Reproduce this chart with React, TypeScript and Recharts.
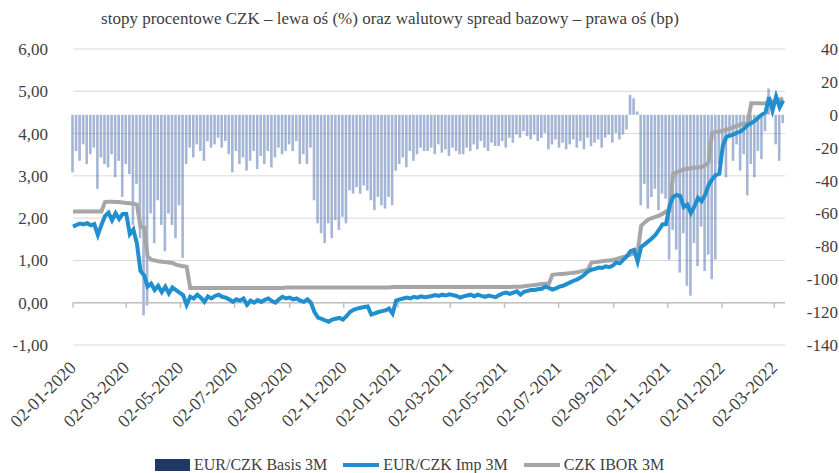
import {
  Bar,
  CartesianGrid,
  ComposedChart,
  Line,
  ReferenceLine,
  XAxis,
  YAxis,
} from "recharts";

const FONT = '"Liberation Serif", "DejaVu Serif", serif';
const TEXT = "#404040";

// first observation and spacing of the sampled series (days)
const START = Date.UTC(2020, 0, 2);
const DAY = 86400000;
const STEP_DAYS = 4;
const LAST_DAY = 802;

// EUR/CZK implied 3M (%), sampled every 4 days
const implied3m = [
  1.8, 1.84, 1.87, 1.85, 1.88, 1.83, 1.86, 1.6, 1.84, 2.05,
  2.13, 1.95, 2.12, 1.98, 2.1, 2.1, 1.62, 1.73, 1.4, 0.75,
  0.65, 0.38, 0.45, 0.3, 0.4, 0.25, 0.38, 0.22, 0.36, 0.3,
  0.24, 0.18, -0.05, 0.14, 0.1, 0.19, 0.12, 0.02, 0.15, 0.1,
  0.16, 0.19, 0.14, 0.12, 0.08, 0.02, 0.08, 0.05, 0.1, -0.05,
  0.05, 0.0, 0.06, 0.02, 0.07, 0.1, 0.04, 0.0, 0.08, 0.14,
  0.1, 0.12, 0.08, 0.1, 0.05, 0.02, 0.08, 0.0, -0.22, -0.35,
  -0.38, -0.42, -0.45, -0.4, -0.38, -0.36, -0.4, -0.32, -0.22, -0.17,
  -0.14, -0.12, -0.1, -0.09, -0.28, -0.25, -0.22, -0.2, -0.18, -0.14,
  -0.26, 0.05, 0.08, 0.1, 0.12, 0.1, 0.14, 0.12, 0.15, 0.13,
  0.14, 0.16, 0.18, 0.16, 0.19, 0.17, 0.2, 0.18, 0.16, 0.12,
  0.15, 0.17, 0.19, 0.15, 0.19, 0.16, 0.14, 0.17, 0.15, 0.13,
  0.18, 0.22, 0.24, 0.21, 0.24, 0.27, 0.19, 0.26, 0.28, 0.3,
  0.3, 0.32, 0.33, 0.38, 0.35, 0.31, 0.34, 0.38, 0.4, 0.44,
  0.48, 0.52, 0.55, 0.6, 0.66, 0.74, 0.78, 0.8, 0.83, 0.82,
  0.86, 0.84, 0.88, 0.95, 0.93, 1.02, 1.1, 1.22, 1.25, 0.97,
  1.32, 1.38, 1.45, 1.52, 1.6, 1.72, 1.85, 1.86, 2.3, 2.5,
  2.55, 2.52, 2.26, 2.32, 2.12, 2.28, 2.48, 2.4, 2.55, 2.78,
  2.92, 3.02, 3.05, 3.72, 3.92, 3.95, 3.98, 4.02, 4.05, 4.12,
  4.2, 4.25, 4.3, 4.38, 4.45, 4.5, 4.86, 4.55, 4.88, 4.62,
  4.78,
];

// CZK IBOR 3M (%)
const ibor3m = [
  2.16, 2.16, 2.16, 2.16, 2.16, 2.16, 2.16, 2.16, 2.16, 2.38,
  2.39, 2.39, 2.38, 2.38, 2.37, 2.36, 2.35, 2.34, 2.32, 1.8,
  1.78, 1.1, 1.02, 1.0, 0.98, 0.97, 0.96, 0.95, 0.94, 0.9,
  0.88, 0.86, 0.85, 0.35, 0.35, 0.35, 0.35, 0.35, 0.35, 0.35,
  0.35, 0.35, 0.35, 0.35, 0.35, 0.35, 0.35, 0.35, 0.35, 0.35,
  0.35, 0.35, 0.35, 0.35, 0.35, 0.35, 0.35, 0.35, 0.35, 0.35,
  0.36, 0.36, 0.36, 0.36, 0.36, 0.36, 0.36, 0.36, 0.36, 0.36,
  0.36, 0.36, 0.36, 0.36, 0.36, 0.36, 0.36, 0.36, 0.36, 0.36,
  0.36, 0.36, 0.36, 0.36, 0.36, 0.36, 0.36, 0.36, 0.36, 0.36,
  0.37, 0.37, 0.37, 0.37, 0.37, 0.37, 0.37, 0.37, 0.37, 0.37,
  0.37, 0.37, 0.37, 0.37, 0.37, 0.37, 0.37, 0.37, 0.37, 0.37,
  0.37, 0.37, 0.37, 0.37, 0.37, 0.37, 0.37, 0.37, 0.37, 0.37,
  0.37, 0.37, 0.37, 0.37, 0.38, 0.38, 0.38, 0.39, 0.4, 0.41,
  0.42, 0.43, 0.44, 0.45, 0.45, 0.66, 0.67, 0.68, 0.68, 0.69,
  0.7, 0.71, 0.72, 0.74, 0.76, 0.78, 0.95, 0.96, 0.97, 0.98,
  0.99, 1.0, 1.01, 1.03, 1.06, 1.08, 1.1, 1.14, 1.17, 1.19,
  1.82, 1.9, 1.97, 2.0, 2.03, 2.06, 2.1, 2.16, 2.18, 3.05,
  3.08, 3.12, 3.15, 3.17, 3.18, 3.19, 3.2, 3.21, 3.25, 3.32,
  4.02, 4.04, 4.05, 4.07, 4.09, 4.12, 4.15, 4.18, 4.21, 4.24,
  4.26, 4.72, 4.72, 4.72, 4.71, 4.72, 4.74, 4.76, 4.78, 4.8,
  4.83,
];

// EUR/CZK basis 3M (bp)
const basis3m = [
  -35, -22, -28, -18, -30, -24, -20, -45, -26, -30,
  -32, -24, -38, -28, -50, -30, -36, -67, -42, -75,
  -122, -116, -60, -78, -52, -67, -83, -60, -67, -75,
  -55, -87, -30, -20, -26, -18, -22, -28, -16, -20,
  -18, -14, -20, -16, -24, -35, -22, -30, -26, -34,
  -28, -22, -33, -25, -30, -22, -32, -26, -20, -24,
  -22, -18, -22, -16, -30, -24, -30, -20, -52, -66,
  -72, -78, -66, -75, -64, -70, -62, -66, -46, -48,
  -44, -48, -43, -46, -52, -58, -50, -55, -57, -50,
  -55, -34, -30, -26, -32, -22, -28, -24, -20, -22,
  -22, -20, -24, -18, -23, -21, -25, -20, -22, -24,
  -24, -20, -22, -18, -21, -16, -20, -22, -17, -19,
  -19, -16, -20, -14, -17, -12, -14, -10, -13, -15,
  -12, -16, -14, -11, -21, -18, -15, -20, -17, -21,
  -18, -15, -20, -16, -21, -14, -19, -17, -15, -20,
  -14, -12, -17, -11, -15, -12, -9, 12, 10, 2,
  -55, -42, -57, -50, -45, -58, -48, -51, -88, -70,
  -82, -96, -72, -104, -110, -78, -92, -68, -95, -85,
  -100, -88, -30, -20, -38, -14, -28, -18, -34, -24,
  -49, -30, -38, -22, -27, -10, 16, 8, -18, -28,
  -5,
];

const tickDates = [
  "2020-01-02", "2020-03-02", "2020-05-02", "2020-07-02", "2020-09-02",
  "2020-11-02", "2021-01-02", "2021-03-02", "2021-05-02", "2021-07-02",
  "2021-09-02", "2021-11-02", "2022-01-02", "2022-03-02",
];
const leftTicks = [-1, 0, 1, 2, 3, 4, 5, 6];
const rightTicks = [-140, -120, -100, -80, -60, -40, -20, 0, 20, 40];

const data = implied3m.map((v, i) => ({
  day: i * STEP_DAYS,
  implied: v,
  ibor: ibor3m[i],
  basis: basis3m[i],
}));

const toDay = (iso: string) => (Date.parse(iso + "T00:00:00Z") - START) / DAY;
const xTicks = tickDates.map(toDay);

const fmtDate = (day: number) => {
  const d = new Date(START + day * DAY);
  const dd = String(d.getUTCDate()).padStart(2, "0");
  const mm = String(d.getUTCMonth() + 1).padStart(2, "0");
  return `${dd}-${mm}-${d.getUTCFullYear()}`;
};

function DateTick({ x, y, payload }: any) {
  const tx = x + 4;
  const ty = y + 22;
  return (
    <text
      x={tx}
      y={ty}
      textAnchor="end"
      transform={`rotate(-45 ${tx} ${ty})`}
      fontFamily={FONT}
      fontSize={18}
      fill={TEXT}
    >
      {fmtDate(payload.value)}
    </text>
  );
}

function RightTick({ x, y, payload }: any) {
  return (
    <text x={x + 51} y={y} dy="0.355em" textAnchor="end" fontFamily={FONT} fontSize={17} fill={TEXT}>
      {payload.value}
    </text>
  );
}

function LegendRow() {
  const item = { display: "flex", alignItems: "center", gap: 4 } as const;
  return (
    <div
      style={{
        position: "absolute",
        top: 456,
        left: 155,
        display: "flex",
        gap: 16,
        fontFamily: FONT,
        fontSize: 16,
        color: TEXT,
        whiteSpace: "nowrap",
      }}
    >
      <div style={item}>
        <span style={{ width: 35, height: 12, background: "#1f3864", display: "inline-block" }} />
        EUR/CZK Basis 3M
      </div>
      <div style={item}>
        <span style={{ width: 36, height: 4, background: "#1f8fd0", display: "inline-block" }} />
        EUR/CZK Imp 3M
      </div>
      <div style={item}>
        <span style={{ width: 36, height: 4, background: "#a6a6a6", display: "inline-block" }} />
        CZK IBOR 3M
      </div>
    </div>
  );
}

export default function App() {
  return (
    <div style={{ position: "absolute", left: 0, top: 0, width: 839, height: 473, background: "#fff", overflow: "hidden" }}>
      <div
        style={{
          position: "absolute",
          top: 9,
          left: 0,
          width: 780,
          textAlign: "center",
          fontFamily: FONT,
          fontSize: 17,
          color: TEXT,
          whiteSpace: "nowrap",
        }}
      >
        stopy procentowe CZK – lewa oś (%) oraz walutowy spread bazowy – prawa oś (bp)
      </div>
      <ComposedChart
        width={839}
        height={473}
        data={data}
        margin={{ top: 49, right: 0, bottom: 0, left: 0 }}
      >
        <CartesianGrid yAxisId="left" vertical={false} stroke="#d9d9d9" />
        <XAxis
          dataKey="day"
          type="number"
          domain={[0, LAST_DAY]}
          ticks={xTicks}
          interval={0}
          axisLine={false}
          tickLine={false}
          tickSize={0}
          height={128}
          tick={<DateTick />}
        />
        <YAxis
          yAxisId="left"
          domain={[-1, 6]}
          ticks={leftTicks}
          width={73}
          axisLine={false}
          tickLine={false}
          tickSize={0}
          tickMargin={25}
          tickFormatter={(v: number) => v.toFixed(2).replace(".", ",")}
          tick={{ fontFamily: FONT, fontSize: 17, fill: TEXT }}
        />
        <YAxis
          yAxisId="right"
          orientation="right"
          domain={[-140, 40]}
          ticks={rightTicks}
          width={54}
          axisLine={false}
          tickLine={false}
          tickSize={0}
          tick={<RightTick />}
        />
        <ReferenceLine yAxisId="left" y={0} stroke="#bfbfbf" strokeWidth={1.5} />
        {xTicks.map((t) => (
          <ReferenceLine
            key={t}
            yAxisId="left"
            segment={[
              { x: t, y: 0 },
              { x: t, y: -0.12 },
            ]}
            stroke="#bfbfbf"
            strokeWidth={1.5}
          />
        ))}
        <Bar
          yAxisId="right"
          dataKey="basis"
          name="EUR/CZK Basis 3M"
          fill="#4a6cab"
          fillOpacity={0.5}
          barSize={2.6}
          isAnimationActive={false}
        />
        <Line
          yAxisId="left"
          type="linear"
          dataKey="ibor"
          name="CZK IBOR 3M"
          stroke="#a6a6a6"
          strokeWidth={4}
          dot={false}
          isAnimationActive={false}
        />
        <Line
          yAxisId="left"
          type="linear"
          dataKey="implied"
          name="EUR/CZK Imp 3M"
          stroke="#1f8fd0"
          strokeWidth={4}
          dot={false}
          isAnimationActive={false}
        />
      </ComposedChart>
      <LegendRow />
    </div>
  );
}
